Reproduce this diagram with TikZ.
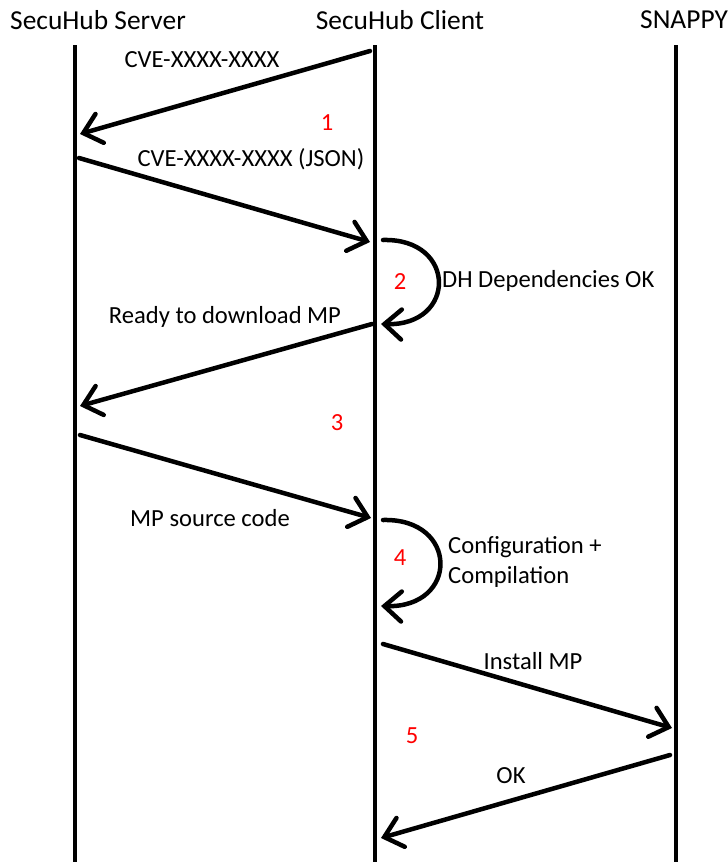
\documentclass[tikz,border=0pt]{standalone}
\usepackage{fontspec}
\setmainfont{Carlito}
\usetikzlibrary{arrows.meta}
\begin{document}
\begin{tikzpicture}[x=1pt,y=-1pt,
  life/.style={line width=4pt},
  msg/.style={line width=4.5pt,line cap=round,-{Straight Barb[length=17pt,width=30pt,line width=4.5pt,line cap=round]}},
  title/.style={font=\fontsize{27.4}{30}\selectfont,inner sep=0pt},
  lbl/.style={font=\fontsize{24.6}{30}\selectfont,inner sep=0pt},
  num/.style={font=\fontsize{24.6}{28}\selectfont,inner sep=0pt,text=red}]
\useasboundingbox (0,0) rectangle (728,862);
\fill[white] (0,0) rectangle (728,862);
% headers
\node[title] (hs) at (98,20) {SecuHub Server};
\node[title] (hc) at (400,20) {SecuHub Client};
\node[title,anchor=west] (hn) at (640,20) {SNAPPY};
% lifelines
\coordinate (s0) at (75,45); \coordinate (s1) at (75,862);
\coordinate (c0) at (375,45); \coordinate (c1) at (375,862);
\coordinate (n0) at (676,45); \coordinate (n1) at (676,862);
\draw[life] (s0) -- (s1);
\draw[life] (c0) -- (c1);
\draw[life] (n0) -- (n1);
% message endpoints
\coordinate (m1a) at (370,51);  \coordinate (m1b) at (80,134);
\coordinate (m2a) at (79,158);  \coordinate (m2b) at (370,242);
\coordinate (l1a) at (383,240); \coordinate (l1b) at (381,324);
\coordinate (m3a) at (372,324); \coordinate (m3b) at (80,406);
\coordinate (m4a) at (80,435);  \coordinate (m4b) at (371,518);
\coordinate (l2a) at (383,520); \coordinate (l2b) at (381,606);
\coordinate (m5a) at (383,644); \coordinate (m5b) at (672,728);
\coordinate (m6a) at (670,755); \coordinate (m6b) at (381,838);
% messages
\draw[msg] (m1a) -- (m1b);
\draw[msg] (m2a) -- (m2b);
\draw[msg] (l1a) .. controls (457,238) and (457,326) .. (l1b);
\draw[msg] (m3a) -- (m3b);
\draw[msg] (m4a) -- (m4b);
\draw[msg] (l2a) .. controls (459,518) and (459,608) .. (l2b);
\draw[msg] (m5a) -- (m5b);
\draw[msg] (m6a) -- (m6b);
% labels
\node[lbl] (t1) at (202,60) {CVE-XXXX-XXXX};
\node[lbl] (t2) at (251,159) {CVE-XXXX-XXXX (JSON)};
\node[lbl,anchor=west] (t3) at (442,281) {DH Dependencies OK};
\node[lbl] (t4) at (225,317) {Ready to download MP};
\node[lbl] (t5) at (210,518) {MP source code};
\node[lbl,anchor=west,align=left] (t6) at (448,562) {Configuration +\\Compilation};
\node[lbl] (t7) at (533,661) {Install MP};
\node[lbl] (t8) at (511,776) {OK};
% step numbers
\node[num] (n1) at (327,123) {1};
\node[num] (n2) at (400,282) {2};
\node[num] (n3) at (337,423) {3};
\node[num] (n4) at (400,558) {4};
\node[num] (n5) at (412,736) {5};
\end{tikzpicture}
\end{document}
